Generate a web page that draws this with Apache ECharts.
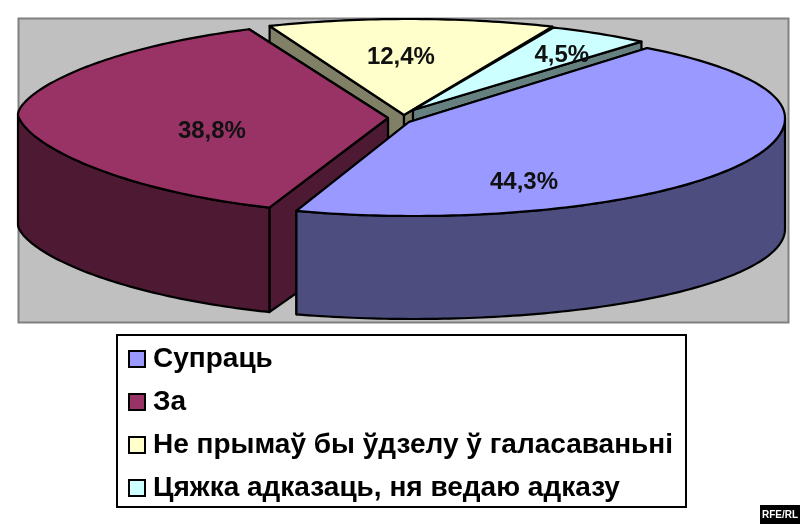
<!DOCTYPE html>
<html><head><meta charset="utf-8">
<style>html,body{margin:0;padding:0;background:#fff}#c{width:800px;height:524px}</style>
<script src="https://cdn.jsdelivr.net/npm/echarts@6/dist/echarts.min.js"></script>
</head><body><div id="c"></div>
<script>
const categories = ['Супраць', 'За', 'Не прымаў бы ўдзелу ў галасаваньні', 'Цяжка адказаць, ня ведаю адказу'];
const values = [44.3, 38.8, 12.4, 4.5];
const valueLabels = ['44,3%', '38,8%', '12,4%', '4,5%'];
const topColors = ['#9999FF', '#993366', '#FFFFCC', '#CCFFFF'];
const wallColors = ['#4D4D80', '#4D1933', '#808066', '#668080'];
// pie geometry of each exploded slice
const centreX = [414, 386, 408, 413];
const centreY = [118, 114, 116, 117];
const apexX = [409, 388, 404, 413];
const apexY = [122, 118, 115, 110];
const radiusX = [371, 368, 372, 363];
const frontRadiusY = [98, 100, 97, 97];
const backRadiusY = [90, 93, 97, 97];
const bottomRadiusY = [90, 93, 90, 90];
const rimPower = [1, 1.25, 1, 1];
const labelFx = [0.2965, -0.473, -0.019, 0.41];
const labelFy = [0.66, 0.17, -0.6, -0.64];
const paintOrder = [5, 4, 2, 3];
const startAngle = 39, wallDepth = 111;

const total = values.reduce((a, b) => a + b, 0);
const outline = { stroke: '#000', lineWidth: 2.2, lineJoin: 'round' };

function slicePainter(i) {
  return function (params, api) {
    const cx = centreX[i], cy = centreY[i], rx = radiusX[i], p = rimPower[i];
    const before = values.slice(0, i).reduce((a, b) => a + b, 0);
    const a0 = startAngle + before / total * 360;
    const a1 = a0 + api.value(0) / total * 360;
    const rad = d => d * Math.PI / 180;
    const bend = d => { const c = Math.cos(rad(d)); return Math.sign(c) * Math.pow(Math.abs(c), p); };
    const top = d => { const b = bend(d); return [cx + rx * Math.sin(rad(d)), cy - (b > 0 ? backRadiusY[i] : frontRadiusY[i]) * b]; };
    const bot = d => [cx + rx * Math.sin(rad(d)), cy + wallDepth - bottomRadiusY[i] * bend(d)];
    const apex = [apexX[i], apexY[i]], apexB = [apexX[i], apexY[i] + wallDepth];
    const children = [];
    const poly = (points, fill) => children.push({
      type: 'polygon', shape: { points }, style: Object.assign({ fill }, outline)
    });
    const wall = wallColors[i];
    // radial walls, the one further back first
    const edges = top(a0)[1] < top(a1)[1] ? [a0, a1] : [a1, a0];
    edges.forEach(d => poly([apex, top(d), bot(d), apexB], wall));
    // outer rim: only the front half faces the viewer
    const f0 = Math.max(a0, 90), f1 = Math.min(a1, 270);
    if (f1 > f0) {
      const rim = [];
      for (let d = f0; d < f1; d += 1) rim.push(top(d));
      rim.push(top(f1));
      for (let d = f1; d > f0; d -= 1) rim.push(bot(d));
      rim.push(bot(f0));
      poly(rim, wall);
    }
    // top face
    const face = [apex];
    for (let d = a0; d < a1; d += 1) face.push(top(d));
    face.push(top(a1));
    poly(face, topColors[i]);
    children.push({
      type: 'text',
      style: {
        x: cx + labelFx[i] * rx, y: cy + labelFy[i] * frontRadiusY[i], text: valueLabels[i],
        fill: '#111', font: 'bold 24px "Liberation Sans", Arial, sans-serif',
        align: 'center', verticalAlign: 'middle'
      }
    });
    return { type: 'group', children };
  };
}

const chart = echarts.init(document.getElementById('c'), null, { renderer: 'canvas' });
chart.setOption({
  animation: false,
  backgroundColor: '#fff',
  graphic: [
    { type: 'rect', shape: { x: 18.5, y: 18.5, width: 770, height: 304 },
      style: { fill: '#C0C0C0', stroke: '#808080', lineWidth: 2 } },
    { type: 'rect', shape: { x: 117, y: 335, width: 569, height: 172 },
      style: { fill: '#fff', stroke: '#000', lineWidth: 2 } },
    { type: 'rect', shape: { x: 760, y: 505, width: 40, height: 19 }, style: { fill: '#000' } },
    { type: 'text', style: { x: 780, y: 515, text: 'RFE/RL', fill: '#fff',
      font: 'bold 10px "Liberation Sans", Arial, sans-serif', align: 'center', verticalAlign: 'middle' } }
  ],
  legend: {
    orient: 'vertical', left: 128, top: 343, padding: 0,
    itemWidth: 16, itemHeight: 16, itemGap: 11, selectedMode: false,
    icon: 'rect',
    itemStyle: { borderColor: '#000', borderWidth: 2 },
    textStyle: { color: '#000', fontSize: 28, fontWeight: 'bold', padding: [0, 0, 0, 3], lineHeight: 32,
      fontFamily: '"Liberation Sans", Arial, sans-serif' },
    data: categories
  },
  series: categories.map((name, i) => ({
    type: 'custom', name, coordinateSystem: 'none', z: paintOrder[i],
    itemStyle: { color: topColors[i] },
    renderItem: slicePainter(i), data: [[values[i]]], silent: true
  }))
});
</script></body></html>
